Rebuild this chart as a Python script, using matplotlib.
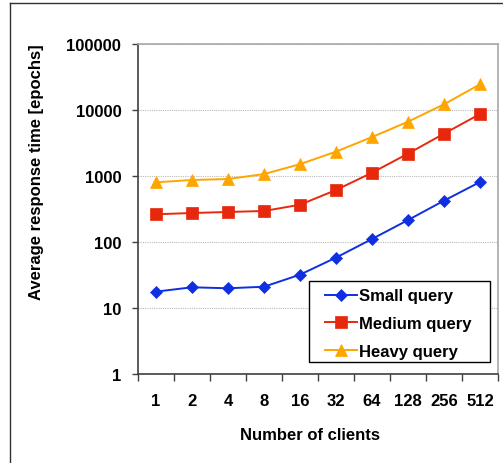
import matplotlib
matplotlib.use("Agg")
import matplotlib.pyplot as plt
from matplotlib.lines import Line2D
from matplotlib.patches import Rectangle
import numpy as np

plt.rcParams['font.family'] = ['Liberation Sans', 'DejaVu Sans']

clients = ["1", "2", "4", "8", "16", "32", "64", "128", "256", "512"]
small_query = [17.7, 20.6, 19.9, 21.0, 32, 58, 111, 215, 423, 811]
medium_query = [263, 275, 285, 295, 367, 613, 1122, 2180, 4380, 8690]
heavy_query = [803, 870, 900, 1070, 1510, 2340, 3890, 6650, 12200, 24500]

series = [
    ("Small query", small_query, "#0f2fe0", "D", 6.5),
    ("Medium query", medium_query, "#e8280c", "s", 8.0),
    ("Heavy query", heavy_query, "#ffa500", "^", 9.0),
]

W, H = 503, 464
FS = 12
fig = plt.figure(figsize=(W / 100, H / 100), dpi=100)


def fx(px):
    return px / W


def fy(py):
    return 1 - py / H


# outer chart frame (runs past right/bottom edges)
fig.add_artist(Line2D([fx(10), 1.0], [fy(4), fy(4)], color="#303030", lw=1.0,
                      transform=fig.transFigure))
fig.add_artist(Line2D([fx(10), fx(10)], [0, fy(4)], color="#303030", lw=1.0,
                      transform=fig.transFigure))

left, right, top, bottom = 138, 498, 45, 375
ax = fig.add_axes([fx(left), fy(bottom), (right - left) / W, (bottom - top) / H])

x = np.arange(len(clients))
for name, vals, col, mk, ms in series:
    ax.plot(x, vals, color=col, marker=mk, markersize=ms, lw=1.4, label=name,
            markeredgewidth=0.5, markeredgecolor=col, zorder=3)

ax.set_yscale("log")
ax.set_ylim(1, 100000)
ax.set_xlim(-0.5, len(clients) - 0.5)

yt = [1, 10, 100, 1000, 10000, 100000]
ax.set_yticks(yt)
ax.set_yticklabels([str(v) for v in yt], fontsize=FS, fontweight="bold")
ax.yaxis.set_minor_locator(matplotlib.ticker.NullLocator())
ax.tick_params(axis="y", direction="out", length=4, width=1, color="#404040", pad=8)

# category ticks sit on the boundaries, labels in the centers
ax.set_xticks(np.arange(len(clients) + 1) - 0.5)
ax.set_xticklabels([])
ax.set_xticks(x, minor=True)
ax.set_xticklabels(clients, minor=True, fontsize=FS, fontweight="bold")
ax.tick_params(axis="x", which="major", direction="out", length=5, width=1, color="#404040")
ax.tick_params(axis="x", which="minor", length=0, pad=14)

ax.grid(True, axis="y", which="major", color="#bbbbbb", linestyle=(0, (1, 1)), lw=0.8)
ax.set_axisbelow(True)

for s in ["left", "bottom"]:
    ax.spines[s].set_color("#404040")
    ax.spines[s].set_linewidth(1.2)
for s in ["top", "right"]:
    ax.spines[s].set_color("#a8a8a8")
    ax.spines[s].set_linewidth(1.2)

# legend box with wider side margins than the default frame allows
lx0, lx1, ly0, ly1 = 309, 490, 282, 363
ax.add_patch(Rectangle((fx(lx0), fy(ly1)), (lx1 - lx0) / W, (ly1 - ly0) / H,
                       transform=fig.transFigure, facecolor="white", edgecolor="black",
                       lw=1.0, zorder=4, clip_on=False))
leg = ax.legend(loc="center", bbox_to_anchor=(fx(398.5), fy(324.5)), bbox_transform=fig.transFigure,
                prop={"weight": "bold", "size": FS}, frameon=False,
                borderpad=0, labelspacing=0.75, handlelength=1.9, handletextpad=0.12,
                borderaxespad=0)
leg.set_zorder(5)

fig.text(fx(37), fy(172), "Average response time [epochs]", rotation=90, ha="center", va="center",
         fontsize=FS, fontweight="bold")
fig.text(fx(310), fy(436), "Number of clients", ha="center", va="center",
         fontsize=FS, fontweight="bold")

fig.savefig("out.png", dpi=100)
